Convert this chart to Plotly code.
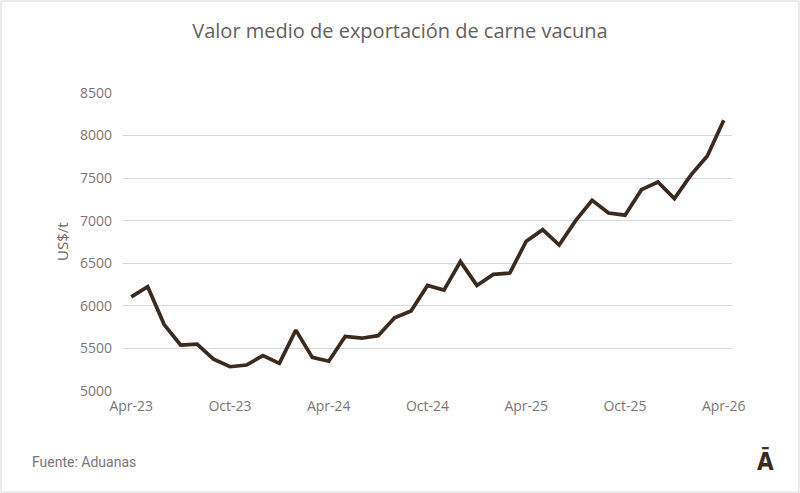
import plotly.graph_objects as go

# monthly export value, Apr-23 .. Apr-26
months = ['Apr-23', 'May-23', 'Jun-23', 'Jul-23', 'Aug-23', 'Sep-23', 'Oct-23', 'Nov-23', 'Dec-23',
          'Jan-24', 'Feb-24', 'Mar-24', 'Apr-24', 'May-24', 'Jun-24', 'Jul-24', 'Aug-24', 'Sep-24',
          'Oct-24', 'Nov-24', 'Dec-24', 'Jan-25', 'Feb-25', 'Mar-25', 'Apr-25', 'May-25', 'Jun-25',
          'Jul-25', 'Aug-25', 'Sep-25', 'Oct-25', 'Nov-25', 'Dec-25', 'Jan-26', 'Feb-26', 'Mar-26',
          'Apr-26']
values = [6105, 6225, 5780, 5540, 5550, 5375, 5285, 5305, 5415, 5325, 5715, 5395, 5350,
          5640, 5620, 5650, 5860, 5940, 6240, 6185, 6520, 6240, 6370, 6385, 6760, 6895,
          6715, 7000, 7240, 7090, 7065, 7365, 7455, 7260, 7535, 7760, 8180]
tick_labels = ['Apr-23', 'Oct-23', 'Apr-24', 'Oct-24', 'Apr-25', 'Oct-25', 'Apr-26']

grey = '#7d7575'

trace = go.Scatter(
    x=months,
    y=values,
    mode='lines',
    line=dict(color='#3a2a1f', width=3.7),
    hoverinfo='x+y'
)

fig = go.Figure(data=[trace])
fig.update_layout(
    width=800,
    height=493,
    paper_bgcolor='white',
    plot_bgcolor='white',
    showlegend=False,
    margin=dict(l=123, r=68, t=93, b=102),
    font=dict(family='Open Sans', size=14, color=grey),
    title=dict(text='Valor medio de exportación de carne vacuna',
               x=0.5, xref='container', xanchor='center',
               y=1 - 31 / 493, yref='container', yanchor='middle',
               font=dict(family='Open Sans', size=20, color='#666060')),
    xaxis=dict(
        type='category',
        range=[-0.5, len(months) - 0.5],
        tickmode='array',
        tickvals=tick_labels,
        ticktext=tick_labels,
        showgrid=False,
        zeroline=False,
        showline=False,
        ticks='',
        ticklabelstandoff=5,
        tickfont=dict(size=14, color=grey)
    ),
    yaxis=dict(
        range=[5000, 8500],
        dtick=500,
        showgrid=True,
        gridcolor='#d9d9d9',
        gridwidth=1,
        zeroline=False,
        showline=False,
        ticks='',
        ticklabelstandoff=10,
        tickfont=dict(size=14, color=grey)
    ),
)

# y axis title, source and logo
fig.add_annotation(text='US$/t', textangle=-90, x=(62 - 123) / 609, y=(391 - 242) / 298,
                   xref='paper', yref='paper', showarrow=False, xanchor='center', yanchor='middle',
                   font=dict(family='Open Sans', size=15, color='#6b6464'))
fig.add_annotation(text='Fuente: Aduanas', x=(30 - 123) / 609, y=(391 - 462) / 298,
                   xref='paper', yref='paper', showarrow=False, xanchor='left', yanchor='middle',
                   font=dict(family='Liberation Sans Narrow, Roboto', size=14, color='#7d7575'))
fig.add_annotation(text='<b>Ā</b>', x=(765 - 123) / 609, y=(391 - 461) / 298,
                   xref='paper', yref='paper', showarrow=False, xanchor='center', yanchor='middle',
                   font=dict(family='Liberation Sans Narrow, DejaVu Sans Condensed', size=24,
                             color='#3a2a1f'))

# thin chart border like the original
fig.add_shape(type='rect', xref='paper', yref='paper',
              x0=(1 - 123) / 609, x1=(799 - 123) / 609,
              y0=(391 - 492) / 298, y1=(391 - 1) / 298,
              line=dict(color='#d9d9d9', width=1))

# drop the default page margin so the figure sits at the window origin
fig.write_html('out.html', config={'displayModeBar': False},
               post_script="document.body.style.margin='0';")
